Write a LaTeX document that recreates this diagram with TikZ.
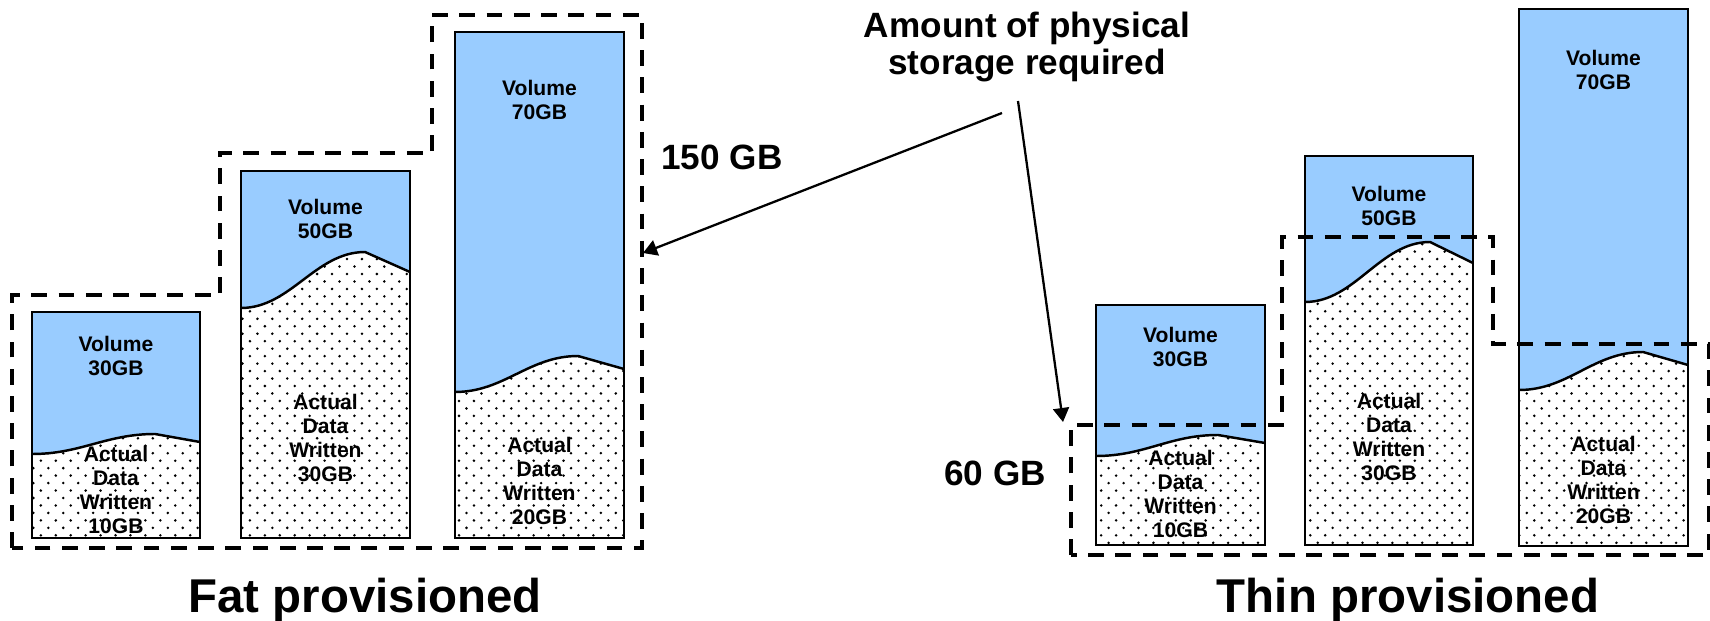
\documentclass[tikz,border=0pt]{standalone}
\usepackage{fontspec}
\setmainfont{Liberation Sans}
\usepackage{xcolor}
\usepackage{tikz}
\usetikzlibrary{patterns}
\usetikzlibrary{arrows.meta}

\definecolor{volblue}{RGB}{153,204,255}

\pgfdeclarepatternformonly{sparsedots}{\pgfqpoint{-1pt}{-1pt}}{\pgfqpoint{9.5pt}{9.5pt}}{\pgfqpoint{8.5pt}{8.5pt}}{%
  \pgfpathcircle{\pgfqpoint{2pt}{2pt}}{0.8pt}%
  \pgfpathcircle{\pgfqpoint{6.25pt}{6.25pt}}{0.8pt}%
  \pgfusepath{fill}}

\tikzset{
  boxline/.style={line width=1.4pt},
  outline/.style={line width=2.1pt,dash pattern=on 9pt off 6.5pt},
  boxtext/.style={font=\bfseries\fontsize{12}{13.6}\selectfont,align=center,inner sep=0pt},
  bigtext/.style={font=\bfseries\fontsize{20}{21}\selectfont,align=center,inner sep=0pt},
  titletext/.style={font=\bfseries\fontsize{27}{32}\selectfont,inner sep=0pt},
  pointer/.style={line width=1.3pt,-{Triangle[length=2.8mm,width=3.2mm]}}
}

\begin{document}
\begin{tikzpicture}[x=0.02cm,y=-0.02cm]
        \useasboundingbox (0,0) rectangle (1710,621);

        % volumes: sides, wave (left, peak, right), sizes, text heights
        \foreach \xl/\xr/\yt/\yb/\ya/\xp/\yp/\yc/\vol/\dat/\vy/\dy [count=\i] in {
                32/200/312/538/454/155/434/442/30/10/356/490,
                241/410/171/538/308/365/252/272/50/30/219/438,
                455/624/32/538/392/578/356/369/70/20/100/481,
                1096/1265/305/545/456/1218/435/443/30/10/347/494,
                1305/1473/156/545/302/1430/242/263/50/30/206/437,
                1519/1688/9/546/390/1643/352/365/70/20/70/480}
        {
                \fill[volblue] (\xl,\yt) rectangle (\xr,\yb);
                \path[fill=white,postaction={pattern=sparsedots}] (\xl,\yb) -- (\xl,\ya)
                        .. controls ({\xl+0.4*(\xp-\xl)},\ya) and ({\xp-0.4*(\xp-\xl)},\yp) .. (\xp,\yp)
                        -- (\xr,\yc) -- (\xr,\yb) -- cycle;
                \draw[boxline] (\xl,\ya)
                        .. controls ({\xl+0.4*(\xp-\xl)},\ya) and ({\xp-0.4*(\xp-\xl)},\yp) .. (\xp,\yp)
                        -- (\xr,\yc);
                \draw[boxline] (\xl,\yt) rectangle (\xr,\yb);
                \node[boxtext] (vol\i) at ({(\xl+\xr)/2},\vy) {Volume\\\vol GB};
                \node[boxtext] (dat\i) at ({(\xl+\xr)/2},\dy) {Actual\\Data\\Written\\\dat GB};
        }

        % physical storage outlines
        \draw[outline] (12,548) -- (12,295) -- (220,295) -- (220,153) -- (432,153)
                -- (432,15) -- (642,15) -- (642,548) -- cycle;
        \draw[outline] (1071,555) -- (1071,425) -- (1282,425) -- (1282,237) -- (1493,237)
                -- (1493,344) -- (1709,344) -- (1709,555) -- cycle;

        \node[bigtext] (amount) at (1027,47) {Amount of physical\\storage required};
        \node[bigtext,anchor=base] (fatsize) at (722,170) {150 GB};
        \node[bigtext,anchor=base] (thinsize) at (995,485) {60 GB};
        \node[titletext,anchor=base] (fattitle) at (365,612) {Fat provisioned};
        \node[titletext,anchor=base] (thintitle) at (1408,612) {Thin provisioned};

        \coordinate (amountleft) at (1002,113);
        \coordinate (amountright) at (1018,101);
        \coordinate (fattip) at (643,253);
        \coordinate (thintip) at (1063,422);
        \draw[pointer] (amountleft) -- (fattip);
        \draw[pointer] (amountright) -- (thintip);
\end{tikzpicture}
\end{document}
